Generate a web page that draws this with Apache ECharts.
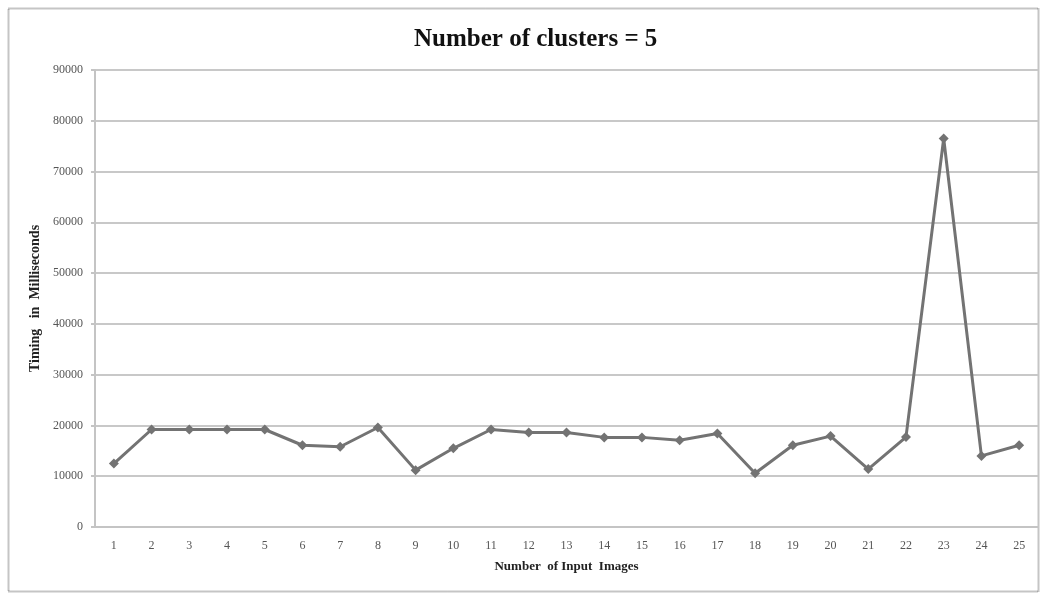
<!DOCTYPE html>
<html>
<head>
<meta charset="utf-8">
<script src="https://cdn.jsdelivr.net/npm/echarts@6/dist/echarts.min.js"></script>
<style>
  html, body { margin: 0; padding: 0; background: #fff; }
  #chart { width: 1042px; height: 595px; }
</style>
</head>
<body>
<div id="chart"></div>
<script>
// number of input images on x, timing in ms on y
var images = ['1', '2', '3', '4', '5', '6', '7', '8', '9', '10', '11', '12', '13',
    '14', '15', '16', '17', '18', '19', '20', '21', '22', '23', '24', '25'];
var timing = [12500, 19200, 19200, 19200, 19200, 16100, 15800, 19600, 11200, 15500, 19200, 18600, 18600,
    17650, 17650, 17100, 18400, 10600, 16100, 17900, 11400, 17700, 76500, 14000, 16100];

var chart = echarts.init(document.getElementById('chart'), null, { renderer: 'canvas' });

var serif = '"Liberation Serif", "DejaVu Serif", serif';

var option = {
    animation: false,
    backgroundColor: '#fff',
    title: {
        text: 'Number of clusters = 5',
        left: 409,
        top: 22,
        textStyle: { fontFamily: serif, fontSize: 25, fontWeight: 'bold', color: '#111' }
    },
    graphic: [{
        type: 'rect',
        shape: { x: 8.5, y: 8.5, width: 1030, height: 583 },
        style: { fill: null, stroke: '#8c8c8c', lineWidth: 2, lineDash: [1, 1] }
    }],
    grid: { left: 95, right: 4, top: 70, bottom: 68 },
    xAxis: {
        type: 'category',
        data: images,
        boundaryGap: true,
        name: 'Number  of Input  Images',
        nameLocation: 'middle',
        nameGap: 33,
        nameTextStyle: { fontFamily: serif, fontSize: 13, fontWeight: 'bold', color: '#222' },
        axisLine: { lineStyle: { color: '#c4c4c4', width: 2 } },
        axisTick: { show: false },
        axisLabel: { fontFamily: serif, fontSize: 12, color: '#555', margin: 13 }
    },
    yAxis: {
        type: 'value',
        min: 0,
        max: 90000,
        interval: 10000,
        name: 'Timing   in  Milliseconds',
        nameLocation: 'middle',
        nameGap: 53,
        nameTextStyle: { fontFamily: serif, fontSize: 14, fontWeight: 'bold', color: '#222' },
        axisLine: { show: true, lineStyle: { color: '#c4c4c4', width: 2 } },
        axisTick: { show: true, length: 4, lineStyle: { color: '#c4c4c4', width: 2 } },
        axisLabel: {
            fontFamily: serif, fontSize: 12, color: '#555', margin: 12,
            formatter: function (v) { return String(v); }
        },
        splitLine: { lineStyle: { color: '#c8c8c8', width: 2 } }
    },
    series: [{
        type: 'line',
        data: timing,
        symbol: 'diamond',
        symbolSize: 10,
        lineStyle: { color: '#737373', width: 3 },
        itemStyle: { color: '#737373' }
    }]
};

chart.setOption(option);
window.addEventListener('resize', chart.resize);
</script>
</body>
</html>
